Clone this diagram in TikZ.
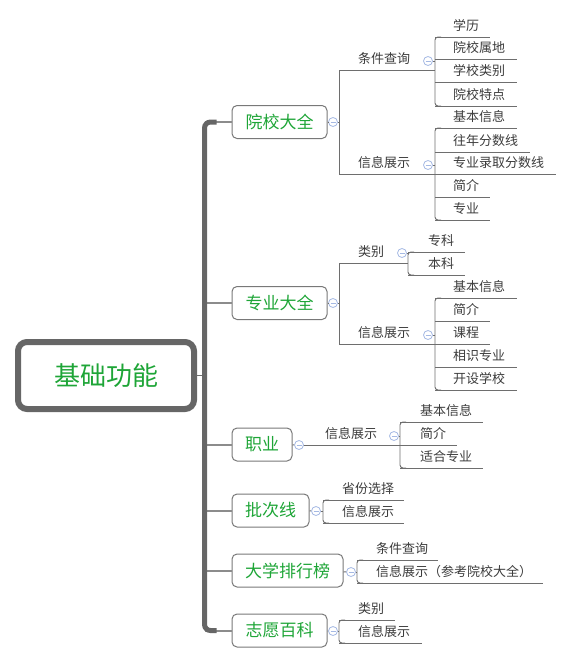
\documentclass[tikz,border=0pt]{standalone}
\usepackage{fontspec}
\newfontfamily\cjk{Noto Sans CJK SC}
\definecolor{trunkgray}{RGB}{102,102,102}
\definecolor{branchgray}{RGB}{140,140,140}
\definecolor{linegray}{RGB}{110,110,110}
\definecolor{boxgray}{RGB}{120,120,120}
\definecolor{textgray}{RGB}{60,60,60}
\definecolor{topicgreen}{RGB}{30,165,55}
\definecolor{foldblue}{RGB}{165,185,228}
\tikzset{
  rootbox/.style={draw=trunkgray, line width=6pt, rounded corners=9pt, minimum width=176pt, minimum height=67pt, inner sep=0pt, font=\cjk\fontsize{26}{30}\selectfont, text=topicgreen},
  mainbox/.style={draw=boxgray, line width=1pt, rounded corners=5pt, minimum height=33pt, inner sep=0pt, font=\cjk\fontsize{17}{20}\selectfont, text=topicgreen},
  leaf/.style={inner sep=0pt, anchor=base west, font=\cjk\fontsize{13}{15}\selectfont, text=textgray},
  trunk/.style={line width=5pt, draw=trunkgray, rounded corners=6pt},
  branch/.style={line width=2pt, draw=branchgray},
  uline/.style={line width=0.9pt, draw=linegray},
  bracket/.style={uline, rounded corners=3pt},
  fold/.style={circle, draw=foldblue, fill=white, line width=0.8pt, minimum size=9pt, inner sep=0pt,
    path picture={\draw[foldblue, line width=0.8pt] ([xshift=-2.5pt]path picture bounding box.center) -- ([xshift=2.5pt]path picture bounding box.center);}}
}
% name, bracket x, end x, line y, text x, text
\newcommand{\leafnode}[6]{%
  \coordinate (#1-s) at (#2,#4);
  \coordinate (#1-e) at (#3,#4);
  \node[leaf] (#1) at (#5,#4-7) {#6};
  \draw[uline] (#1-s) -- (#1-e);
}
\begin{document}
\begin{tikzpicture}[x=1pt,y=-1pt]
	\useasboundingbox (0,0) rectangle (572,664);

	%Root
	\node[rootbox] (root) at (106,375.5) {基础功能};

	%Main topics
	\node[mainbox, minimum width=95pt] (b1) at (279.5,122) {院校大全};
	\node[mainbox, minimum width=95pt] (b2) at (279.5,303) {专业大全};
	\node[mainbox, minimum width=60pt] (b3) at (262,444.5) {职业};
	\node[mainbox, minimum width=77pt] (b4) at (270.5,510.5) {批次线};
	\node[mainbox, minimum width=111pt] (b5) at (287.5,570.5) {大学排行榜};
	\node[mainbox, minimum width=95pt] (b6) at (279.5,630.5) {志愿百科};

	%Trunk and branches
	\coordinate (t1) at (204.5,122);
	\coordinate (t6) at (204.5,630.5);
	\draw[uline] (root) -- (root -| t1);
	\draw[branch] (t1) -- (b1);
	\draw[branch] (b2 -| t1) -- (b2);
	\draw[branch] (b3 -| t1) -- (b3);
	\draw[branch] (b4 -| t1) -- (b4);
	\draw[branch] (b5 -| t1) -- (b5);
	\draw[branch] (t6) -- (b6);
	\draw[trunk] ([xshift=12pt]t1) -- (t1) -- (t6) -- ([xshift=12pt]t6);

	%院校大全
	\leafnode{s11}{339}{435}{70}{358}{条件查询}
	\leafnode{s12}{339}{435}{174}{358}{信息展示}
	\draw[uline] (s11-s) -- (s12-s);
	\leafnode{c111}{435}{490}{37}{453}{学历}
	\leafnode{c112}{435}{517}{59}{453}{院校属地}
	\leafnode{c113}{435}{517}{82}{453}{学校类别}
	\leafnode{c114}{435}{517}{106}{453}{院校特点}
	\draw[bracket] ([xshift=6pt]c111-s) -- (c111-s) -- (c114-s) -- ([xshift=6pt]c114-s);
	\leafnode{c121}{435}{517}{128}{453}{基本信息}
	\leafnode{c122}{435}{530}{152}{453}{往年分数线}
	\leafnode{c123}{435}{556}{174}{453}{专业录取分数线}
	\leafnode{c124}{435}{490}{197}{453}{简介}
	\leafnode{c125}{435}{490}{220}{453}{专业}
	\draw[bracket] ([xshift=6pt]c121-s) -- (c121-s) -- (c125-s) -- ([xshift=6pt]c125-s);
	\node[fold] (f1) at (333,122) {};
	\node[fold] (f11) at (428,61) {};
	\node[fold] (f12) at (428,165) {};
	\draw[uline] (b1) -- (f1);
	\draw[uline] (f1) -- (f1 -| s11-s);
	\draw[uline] (f11) -- (f11 -| c111-s);
	\draw[uline] (f12) -- (f12 -| c121-s);

	%专业大全
	\leafnode{s21}{339}{408}{263}{358}{类别}
	\leafnode{s22}{339}{435}{344}{358}{信息展示}
	\draw[uline] (s21-s) -- (s22-s);
	\leafnode{c211}{408}{465}{252}{428}{专科}
	\leafnode{c212}{408}{465}{275}{428}{本科}
	\draw[bracket] ([xshift=6pt]c211-s) -- (c211-s) -- (c212-s) -- ([xshift=6pt]c212-s);
	\leafnode{c221}{435}{517}{298}{453}{基本信息}
	\leafnode{c222}{435}{490}{321}{453}{简介}
	\leafnode{c223}{435}{490}{344}{453}{课程}
	\leafnode{c224}{435}{517}{367}{453}{相识专业}
	\leafnode{c225}{435}{517}{390}{453}{开设学校}
	\draw[bracket] ([xshift=6pt]c221-s) -- (c221-s) -- (c225-s) -- ([xshift=6pt]c225-s);
	\node[fold] (f2) at (333,303) {};
	\node[fold] (f21) at (402,253) {};
	\node[fold] (f22) at (428,335) {};
	\draw[uline] (b2) -- (f2);
	\draw[uline] (f2) -- (f2 -| s21-s);
	\draw[uline] (f21) -- (f21 -| c211-s);
	\draw[uline] (f22) -- (f22 -| c221-s);

	%职业
	\leafnode{s31}{303}{400}{445}{325}{信息展示}
	\leafnode{c311}{400}{483}{422}{420}{基本信息}
	\leafnode{c312}{400}{457}{445}{420}{简介}
	\leafnode{c313}{400}{483}{468}{420}{适合专业}
	\draw[bracket] ([xshift=6pt]c311-s) -- (c311-s) -- (c313-s) -- ([xshift=6pt]c313-s);
	\node[fold] (f3) at (299,445) {};
	\node[fold] (f31) at (394,436) {};
	\draw[uline] (b3) -- (f3);
	\draw[uline] (f31) -- (f31 -| c311-s);

	%批次线
	\leafnode{c41}{323}{404}{500}{342}{省份选择}
	\leafnode{c42}{323}{404}{523}{342}{信息展示}
	\draw[bracket] ([xshift=6pt]c41-s) -- (c41-s) -- (c42-s) -- ([xshift=6pt]c42-s);
	\node[fold] (f4) at (316,511) {};
	\draw[uline] (b4) -- (f4);
	\draw[uline] (f4) -- (f4 -| c41-s);

	%大学排行榜
	\leafnode{c51}{357}{438}{560}{376}{条件查询}
	\leafnode{c52}{357}{543}{583}{376}{信息展示（参考院校大全）}
	\draw[bracket] ([xshift=6pt]c51-s) -- (c51-s) -- (c52-s) -- ([xshift=6pt]c52-s);
	\node[fold] (f5) at (351,572) {};
	\draw[uline] (b5) -- (f5);
	\draw[uline] (f5) -- (f5 -| c51-s);

	%志愿百科
	\leafnode{c61}{339}{395}{620}{358}{类别}
	\leafnode{c62}{339}{422}{643}{358}{信息展示}
	\draw[bracket] ([xshift=6pt]c61-s) -- (c61-s) -- (c62-s) -- ([xshift=6pt]c62-s);
	\node[fold] (f6) at (333,631) {};
	\draw[uline] (b6) -- (f6);
	\draw[uline] (f6) -- (f6 -| c61-s);
\end{tikzpicture}
\end{document}
